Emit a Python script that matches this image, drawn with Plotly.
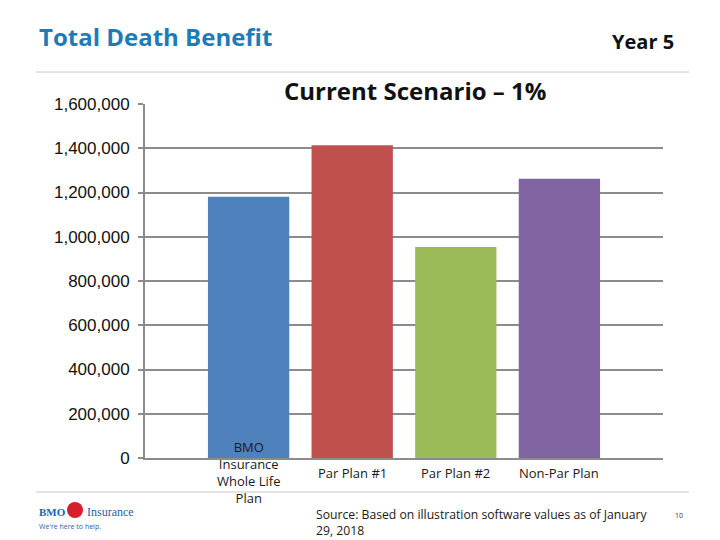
import plotly.graph_objects as go

# ---- data ----
categories = ["BMO<br>Insurance<br>Whole Life<br>Plan", "Par Plan #1", "Par Plan #2", "Non-Par Plan"]
death_benefit = [1181000, 1413000, 954000, 1262000]
bar_colors = ["#4F81BD", "#C0504D", "#9BBB59", "#8064A2"]
y_tick_values = [0, 200000, 400000, 600000, 800000, 1000000, 1200000, 1400000, 1600000]
y_tick_labels = ["0", "200,000", "400,000", "600,000", "800,000", "1,000,000", "1,200,000", "1,400,000", "1,600,000"]

W, H = 720, 540
L, R, T, B = 145, 663, 104, 458


def px(x):
    return (x - L) / (R - L)


def py(y):
    return (B - y) / (B - T)


fig = go.Figure()
fig.add_trace(go.Bar(
    x=list(range(len(categories))),
    y=death_benefit,
    marker=dict(color=bar_colors, line=dict(width=0)),
    width=0.785,
    hoverinfo="skip",
))

annotations = []
for i, c in enumerate(categories):
    annotations.append(dict(
        x=i, y=py(473), xref="x", yref="paper", text=c, showarrow=False,
        xanchor="center", yanchor="middle",
        font=dict(family="Open Sans", size=13, color="#1a1a1a"),
    ))

annotations += [
    dict(x=px(37), y=py(36), xref="paper", yref="paper", text="<b>Total Death Benefit</b>",
         showarrow=False, xanchor="left", yanchor="middle",
         font=dict(family="Open Sans", size=24, color="#1F7BB8")),
    dict(x=px(676), y=py(42), xref="paper", yref="paper", text="<b>Year 5</b>",
         showarrow=False, xanchor="right", yanchor="middle",
         font=dict(family="Open Sans", size=20, color="#111111")),
    dict(x=px(415), y=py(91), xref="paper", yref="paper", text="<b>Current Scenario – 1%</b>",
         showarrow=False, xanchor="center", yanchor="middle",
         font=dict(family="Open Sans", size=24, color="#111111")),
    dict(x=px(314), y=py(522), xref="paper", yref="paper",
         text="Source: Based on illustration software values as of January<br>29, 2018",
         showarrow=False, xanchor="left", yanchor="middle", align="left",
         font=dict(family="Open Sans", size=12.2, color="#1a1a1a")),
    dict(x=px(679), y=py(515), xref="paper", yref="paper", text="10",
         showarrow=False, xanchor="center", yanchor="middle",
         font=dict(family="Open Sans", size=7, color="#333333")),
    dict(x=px(37), y=py(512), xref="paper", yref="paper", text="<b>BMO</b>",
         showarrow=False, xanchor="left", yanchor="middle",
         font=dict(family="Liberation Serif", size=11, color="#1F5FA8")),
    dict(x=px(85), y=py(512), xref="paper", yref="paper", text="Insurance",
         showarrow=False, xanchor="left", yanchor="middle",
         font=dict(family="Liberation Serif", size=12, color="#1F5FA8")),
    dict(x=px(37), y=py(526), xref="paper", yref="paper", text="We're here to help.",
         showarrow=False, xanchor="left", yanchor="middle",
         font=dict(family="Open Sans", size=7, color="#1F5FA8")),
]

shapes = [
    dict(type="line", xref="paper", yref="paper", x0=px(36), x1=px(689), y0=py(72), y1=py(72),
         line=dict(color="#C8C8C8", width=1)),
    dict(type="line", xref="paper", yref="paper", x0=px(36), x1=px(689), y0=py(492), y1=py(492),
         line=dict(color="#C8C8C8", width=1), layer="below"),
    dict(type="circle", xref="paper", yref="paper", x0=px(67), x1=px(83), y0=py(502), y1=py(518),
         fillcolor="#D81E2C", line=dict(width=0)),
]

fig.update_layout(
    width=W, height=H,
    margin=dict(l=L, r=W - R, t=T, b=H - B, pad=0),
    paper_bgcolor="white", plot_bgcolor="white",
    showlegend=False,
    annotations=annotations,
    shapes=shapes,
    xaxis=dict(range=[-1, 4], showticklabels=False, showgrid=False, zeroline=False,
               showline=True, linecolor="#8C8C8C", linewidth=2, ticks=""),
    yaxis=dict(range=[0, 1600000], tickvals=y_tick_values, ticktext=y_tick_labels,
               showgrid=True, gridcolor="#8C8C8C", gridwidth=2, zeroline=False,
               showline=True, linecolor="#8C8C8C", linewidth=2,
               ticks="outside", ticklen=5, tickcolor="#8C8C8C", tickwidth=2,
               ticklabelstandoff=5,
               tickfont=dict(family="Liberation Sans", size=17, color="#111111")),
    bargap=0.2,
)

fig.write_html("out.html", config={"displayModeBar": False},
               post_script="document.body.style.margin='0';document.body.style.overflow='hidden';")
